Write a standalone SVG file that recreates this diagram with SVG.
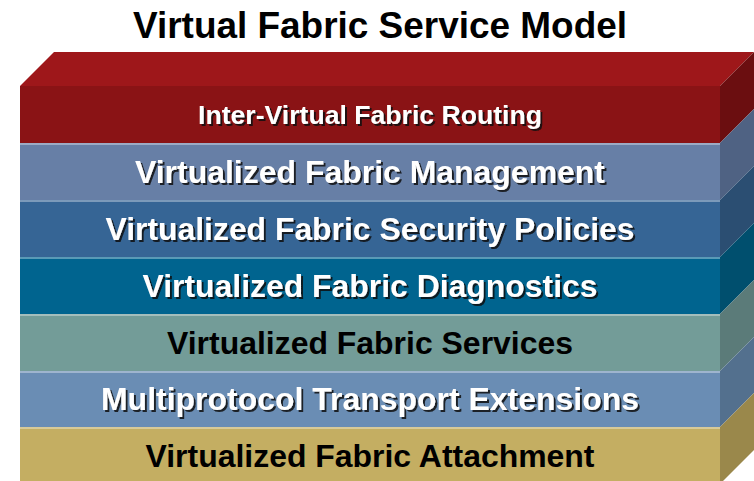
<svg xmlns="http://www.w3.org/2000/svg" width="754" height="481" viewBox="0 0 754 481">
<defs>
<filter id="sh" x="-5%" y="-20%" width="110%" height="150%">
<feDropShadow dx="2" dy="2" stdDeviation="0.4" flood-color="#111111" flood-opacity="0.85"/>
</filter>
</defs>
<style>
.t{font-family:"Liberation Sans",Arial,sans-serif;font-weight:bold;text-anchor:middle;font-size:31px}
.w{fill:#ffffff;filter:url(#sh)}
.b{fill:#000000}
.hl{opacity:0.35;fill:#ffffff}
</style>
<rect width="754" height="481" fill="#ffffff"/>
<text x="380" y="38" class="t b" style="font-size:36px" textLength="494" lengthAdjust="spacingAndGlyphs">Virtual Fabric Service Model</text>

<g id="layer-routing">
<polygon points="20,86 54,52 754,52 720,86" fill="#9e171a"/>
<rect x="20" y="86" width="700" height="57" fill="#8a1315"/>
<polygon points="720,86 754,52 754,109 720,143" fill="#6b0e10"/>
<text x="370" y="124" class="t w" style="font-size:26px" textLength="344" lengthAdjust="spacingAndGlyphs">Inter-Virtual Fabric Routing</text>
</g>

<g id="layer-management">
<rect x="20" y="143" width="700" height="57" fill="#677fa6"/>
<rect x="20" y="143" width="700" height="2" class="hl"/>
<polygon points="720,143 754,109 754,166 720,200" fill="#4f6283"/>
<text x="370" y="183" class="t w" textLength="470" lengthAdjust="spacingAndGlyphs">Virtualized Fabric Management</text>
</g>

<g id="layer-security">
<rect x="20" y="200" width="700" height="57" fill="#366595"/>
<rect x="20" y="200" width="700" height="2" class="hl"/>
<polygon points="720,200 754,166 754,223 720,257" fill="#2b4e72"/>
<text x="370" y="240" class="t w" textLength="529" lengthAdjust="spacingAndGlyphs">Virtualized Fabric Security Policies</text>
</g>

<g id="layer-diagnostics">
<rect x="20" y="257" width="700" height="57" fill="#00648f"/>
<rect x="20" y="257" width="700" height="2" class="hl"/>
<polygon points="720,257 754,223 754,280 720,314" fill="#004f6e"/>
<text x="370" y="297" class="t w" textLength="455" lengthAdjust="spacingAndGlyphs">Virtualized Fabric Diagnostics</text>
</g>

<g id="layer-services">
<rect x="20" y="314" width="700" height="57" fill="#739c98"/>
<rect x="20" y="314" width="700" height="2" class="hl"/>
<polygon points="720,314 754,280 754,337 720,371" fill="#5b7b79"/>
<text x="370" y="354" class="t b" textLength="406" lengthAdjust="spacingAndGlyphs">Virtualized Fabric Services</text>
</g>

<g id="layer-transport">
<rect x="20" y="371" width="700" height="56" fill="#6a8db4"/>
<rect x="20" y="371" width="700" height="2" class="hl"/>
<polygon points="720,371 754,337 754,393 720,427" fill="#53708e"/>
<text x="370" y="410" class="t w" textLength="538" lengthAdjust="spacingAndGlyphs">Multiprotocol Transport Extensions</text>
</g>

<g id="layer-attachment">
<rect x="20" y="427" width="700" height="57" fill="#c4ae62"/>
<rect x="20" y="427" width="700" height="2" class="hl"/>
<polygon points="720,427 754,393 754,450 720,484" fill="#9a884b"/>
<text x="370" y="467" class="t b" textLength="449" lengthAdjust="spacingAndGlyphs">Virtualized Fabric Attachment</text>
</g>

<g id="connectors"/>
</svg>
